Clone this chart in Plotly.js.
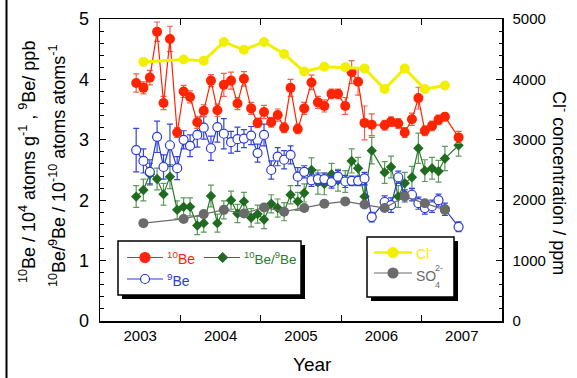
<!DOCTYPE html>
<html>
<head>
<meta charset="utf-8">
<script src="https://cdn.plot.ly/plotly-3.0.1.min.js"></script>
<style>html,body{margin:0;padding:0;background:#fff;}#chart{width:577px;height:378px;}</style>
</head>
<body>
<div id="chart"></div>
<script>
// Sampling dates (decimal year)
const sampleDates = [2002.95,2003.04,2003.12,2003.21,2003.29,2003.37,2003.46,2003.54,2003.62,2003.71,2003.79,2003.88,2003.96,2004.04,2004.13,2004.21,2004.29,2004.38,2004.46,2004.54,2004.63,2004.71,2004.79,2004.87,2004.96,2005.04,2005.13,2005.21,2005.29,2005.38,2005.46,2005.55,2005.63,2005.71,2005.79,2005.88,2006.04,2006.12,2006.21,2006.29,2006.38,2006.46,2006.54,2006.63,2006.71,2006.79,2006.96];
// 10Be (10^4 atoms/g)
const be10 = [3.94,3.86,4.03,4.79,3.61,4.67,3.12,3.80,3.71,3.29,3.48,3.98,3.49,3.91,3.98,3.60,4.01,3.52,3.28,3.46,3.29,3.41,3.20,3.86,3.18,3.52,3.95,3.62,3.56,3.76,3.76,3.56,4.12,3.96,3.28,3.25,3.24,3.30,3.27,3.12,3.34,3.69,3.15,3.23,3.33,3.38,3.04];
const be10Err = [0.15,0.10,0.12,0.16,0.11,0.21,0.08,0.10,0.10,0.10,0.10,0.10,0.10,0.19,0.14,0.10,0.12,0.10,0.08,0.11,0.08,0.10,0.08,0.14,0.08,0.10,0.12,0.10,0.10,0.08,0.08,0.14,0.19,0.22,0.28,0.18,0.08,0.08,0.08,0.08,0.10,0.18,0.08,0.08,0.08,0.06,0.10];
// 9Be (ppb)
const be9 = [2.83,2.65,2.47,3.05,2.55,2.91,2.53,3.00,2.90,3.08,3.20,2.86,3.21,3.10,2.96,3.01,3.02,3.07,2.78,3.08,2.50,2.72,2.67,2.75,2.39,2.47,2.33,2.35,2.35,2.30,2.39,2.31,2.32,2.32,2.36,1.72,1.97,1.92,2.38,2.07,2.09,1.95,1.87,1.90,2.00,1.85,1.56];
const be9Err = [0.36,0.20,0.20,0.26,0.20,0.35,0.19,0.15,0.18,0.20,0.19,0.20,0.25,0.25,0.18,0.20,0.15,0.15,0.15,0.18,0.15,0.15,0.15,0.15,0.15,0.10,0.10,0.10,0.10,0.10,0.10,0.10,0.08,0.08,0.10,0.08,0.10,0.12,0.10,0.10,0.10,0.10,0.10,0.10,0.10,0.10,0.08];
// 10Be/9Be (10^-10)
const ratio = [2.06,2.17,2.43,2.35,2.10,2.39,1.84,1.89,1.89,1.58,1.62,2.07,1.62,1.84,2.00,1.78,1.98,1.71,1.77,1.68,1.94,1.87,1.81,2.09,1.98,2.12,2.50,2.30,2.27,2.43,2.33,2.31,2.65,2.53,2.06,2.82,2.46,2.55,2.06,2.28,2.38,2.86,2.49,2.53,2.48,2.69,2.91];
const ratioErr = [0.18,0.18,0.18,0.18,0.18,0.20,0.15,0.15,0.15,0.15,0.15,0.18,0.15,0.15,0.15,0.15,0.15,0.15,0.15,0.15,0.15,0.15,0.15,0.15,0.15,0.15,0.20,0.20,0.18,0.18,0.18,0.18,0.20,0.18,0.18,0.22,0.18,0.18,0.18,0.18,0.18,0.25,0.18,0.18,0.18,0.20,0.18];
// Cl- and SO4 2- (ppm)
const ionDates = [2003.04,2003.54,2003.79,2004.04,2004.29,2004.54,2004.79,2005.04,2005.29,2005.55,2005.79,2006.04,2006.29,2006.54,2006.79];
const chloride = [4290,4330,4310,4620,4490,4620,4420,4130,4210,4200,4180,3840,4180,3840,3900];
const sulfate = [1620,1690,1770,1840,1780,1880,1810,1870,1940,1980,1930,1870,2060,1950,1840];
const yearTicks = [2003,2004,2005,2006,2007];
const yearBounds = [2003.5,2004.5,2005.5,2006.5];

const RED='#ff2400', BLUE='#2b3bd6', GREEN='#1f6b1f', YEL='#f3ef00', GRAY='#6b6b6b';

const traces = [
  {x:sampleDates, y:ratio, type:'scatter', mode:'lines+markers', yaxis:'y',
   line:{color:'#2a7a2a', width:1.2}, marker:{symbol:'diamond', size:8, color:GREEN},
   error_y:{type:'data', array:ratioErr, color:'#5e9a5e', thickness:1.2, width:3}},
  {x:sampleDates, y:be9, type:'scatter', mode:'lines+markers', yaxis:'y',
   line:{color:BLUE, width:1.2}, marker:{symbol:'circle', size:9, color:'#fff', line:{color:BLUE, width:1.2}},
   error_y:{type:'data', array:be9Err, color:'#3445dd', thickness:1.2, width:3}},
  {x:sampleDates, y:be10, type:'scatter', mode:'lines+markers', yaxis:'y',
   line:{color:RED, width:1.2}, marker:{symbol:'circle', size:10, color:RED},
   error_y:{type:'data', array:be10Err, color:'#f0604e', thickness:1.2, width:3}},
  {x:ionDates, y:chloride, type:'scatter', mode:'lines+markers', yaxis:'y2',
   line:{color:YEL, width:3}, marker:{symbol:'circle', size:10, color:YEL}},
  {x:ionDates, y:sulfate, type:'scatter', mode:'lines+markers', yaxis:'y2',
   line:{color:GRAY, width:1.2}, marker:{symbol:'circle', size:10, color:GRAY}}
];

const L=100, T=19, W=402, H=302;
const X = px => (px-L)/W;
const Y = py => (T+H-py)/H;

const shapes = [];
const annotations = [];
function box(x0,y0,x1,y1){
  shapes.push({type:'rect', xref:'paper', yref:'paper', x0:X(x0+4), x1:X(x1+4), y0:Y(y0+4), y1:Y(y1+4), fillcolor:'#000', line:{width:0}});
  shapes.push({type:'rect', xref:'paper', yref:'paper', x0:X(x0), x1:X(x1), y0:Y(y0), y1:Y(y1), fillcolor:'#fff', line:{color:'#000', width:1.5}});
}
function lineSample(x0,x1,y,color,w){
  shapes.push({type:'line', xref:'paper', yref:'paper', x0:X(x0), x1:X(x1), y0:Y(y), y1:Y(y), line:{color:color, width:w}});
}
function circ(cx,cy,r,fill,stroke){
  shapes.push({type:'circle', xref:'paper', yref:'paper', x0:X(cx-r), x1:X(cx+r), y0:Y(cy+r), y1:Y(cy-r), fillcolor:fill, line:{color:stroke, width:1.2}});
}
function diamond(cx,cy,r,fill){
  const p = `M ${X(cx)} ${Y(cy-r)} L ${X(cx+r)} ${Y(cy)} L ${X(cx)} ${Y(cy+r)} L ${X(cx-r)} ${Y(cy)} Z`;
  shapes.push({type:'path', xref:'paper', yref:'paper', path:p, fillcolor:fill, line:{color:fill, width:1}});
}
function txt(px,py,text,color,size,anchor){
  annotations.push({xref:'paper', yref:'paper', x:X(px), y:Y(py), text:text, showarrow:false,
    xanchor:anchor||'left', yanchor:'middle', font:{family:'Liberation Sans, Arial, sans-serif', size:size, color:color}});
}

// legend 1
box(118,241,301,295);
lineSample(127,163,257.5,RED,1.2); circ(145,257.5,5,RED,RED);
txt(165,258,'<sup>10</sup>Be',RED,14);
lineSample(204,240,257.5,'#2a7a2a',1.2); diamond(222.7,257.5,5,GREEN);
txt(242,258,'<sup>10</sup>Be/<sup>9</sup>Be','#2a7a2a',13.5);
lineSample(127,163,279,BLUE,1.2); circ(145,279,4.5,'#fff',BLUE);
txt(165,280,'<sup>9</sup>Be',BLUE,14);
// legend 2
box(367,237,454,297);
lineSample(374,412,252.5,YEL,2.5); circ(393,252.5,5,YEL,YEL);
txt(414,253,'Cl<sup>-</sup>',YEL,14);
lineSample(374,412,273,GRAY,1.2); circ(393,273,5,GRAY,GRAY);
txt(414,276,'SO',GRAY,14);
txt(433,268,'2-',GRAY,9);
txt(433,285,'4',GRAY,9);

// left frame line
shapes.push({type:'line', xref:'paper', yref:'paper', x0:X(6.5), x1:X(6.5), y0:Y(0), y1:Y(378), line:{color:'#000', width:2}});

// axis titles
annotations.push({xref:'paper', yref:'paper', x:X(27), y:Y(162), textangle:-90, showarrow:false, xanchor:'center', yanchor:'middle',
  text:'<sup>10</sup>Be / 10<sup>4</sup> atoms g<sup>-1</sup> , <sup>9</sup>Be/ ppb', font:{family:'Liberation Sans, Arial, sans-serif', size:18, color:'#000'}});
annotations.push({xref:'paper', yref:'paper', x:X(57), y:Y(166), textangle:-90, showarrow:false, xanchor:'center', yanchor:'middle',
  text:'<sup>10</sup>Be/<sup>9</sup>Be / 10<sup>-10</sup> atoms atoms<sup>-1</sup>', font:{family:'Liberation Sans, Arial, sans-serif', size:18, color:'#000'}});
annotations.push({xref:'paper', yref:'paper', x:X(561), y:Y(183), textangle:90, showarrow:false, xanchor:'center', yanchor:'middle',
  text:'Cl<sup>-</sup> concentration / ppm', font:{family:'Liberation Sans, Arial, sans-serif', size:18, color:'#000'}});
annotations.push({xref:'paper', yref:'paper', x:X(312), y:Y(364), showarrow:false, xanchor:'center', yanchor:'middle',
  text:'Year', font:{family:'Liberation Sans, Arial, sans-serif', size:19, color:'#000'}});

const layout = {
  width:577, height:378,
  margin:{l:L, r:577-L-W, t:T, b:378-T-H, pad:0},
  paper_bgcolor:'#fff', plot_bgcolor:'#fff',
  showlegend:false,
  font:{family:'Liberation Sans, Arial, sans-serif', color:'#000'},
  xaxis:{range:[2002.5,2007.5], tickvals:yearTicks, ticktext:yearTicks.map(String), ticks:'', showgrid:false, zeroline:false,
    showline:true, linecolor:'#000', linewidth:1.5, mirror:'ticks', tickfont:{size:15},
    minor:{tickvals:yearBounds, ticks:'inside', ticklen:6, tickcolor:'#000', tickwidth:1, showgrid:false}},
  yaxis:{range:[0,5], dtick:1, ticks:'inside', ticklen:6, tickwidth:1, tickcolor:'#000', showgrid:false, zeroline:false,
    showline:true, linecolor:'#000', linewidth:1.5, tickfont:{size:18}, ticklabelstandoff:6,
    minor:{dtick:0.2, ticks:'inside', ticklen:3.5, tickcolor:'#000', tickwidth:1, showgrid:false}},
  yaxis2:{overlaying:'y', side:'right', range:[0,5000], dtick:1000, ticks:'inside', ticklen:6, tickwidth:1, tickcolor:'#000',
    showgrid:false, zeroline:false, showline:true, linecolor:'#000', linewidth:1.5, tickfont:{size:15}, ticklabelstandoff:6,
    minor:{dtick:200, ticks:'inside', ticklen:3.5, tickcolor:'#000', tickwidth:1, showgrid:false}},
  shapes:shapes,
  annotations:annotations
};

Plotly.newPlot('chart', traces, layout, {staticPlot:true, displayModeBar:false});
</script>
</body>
</html>
